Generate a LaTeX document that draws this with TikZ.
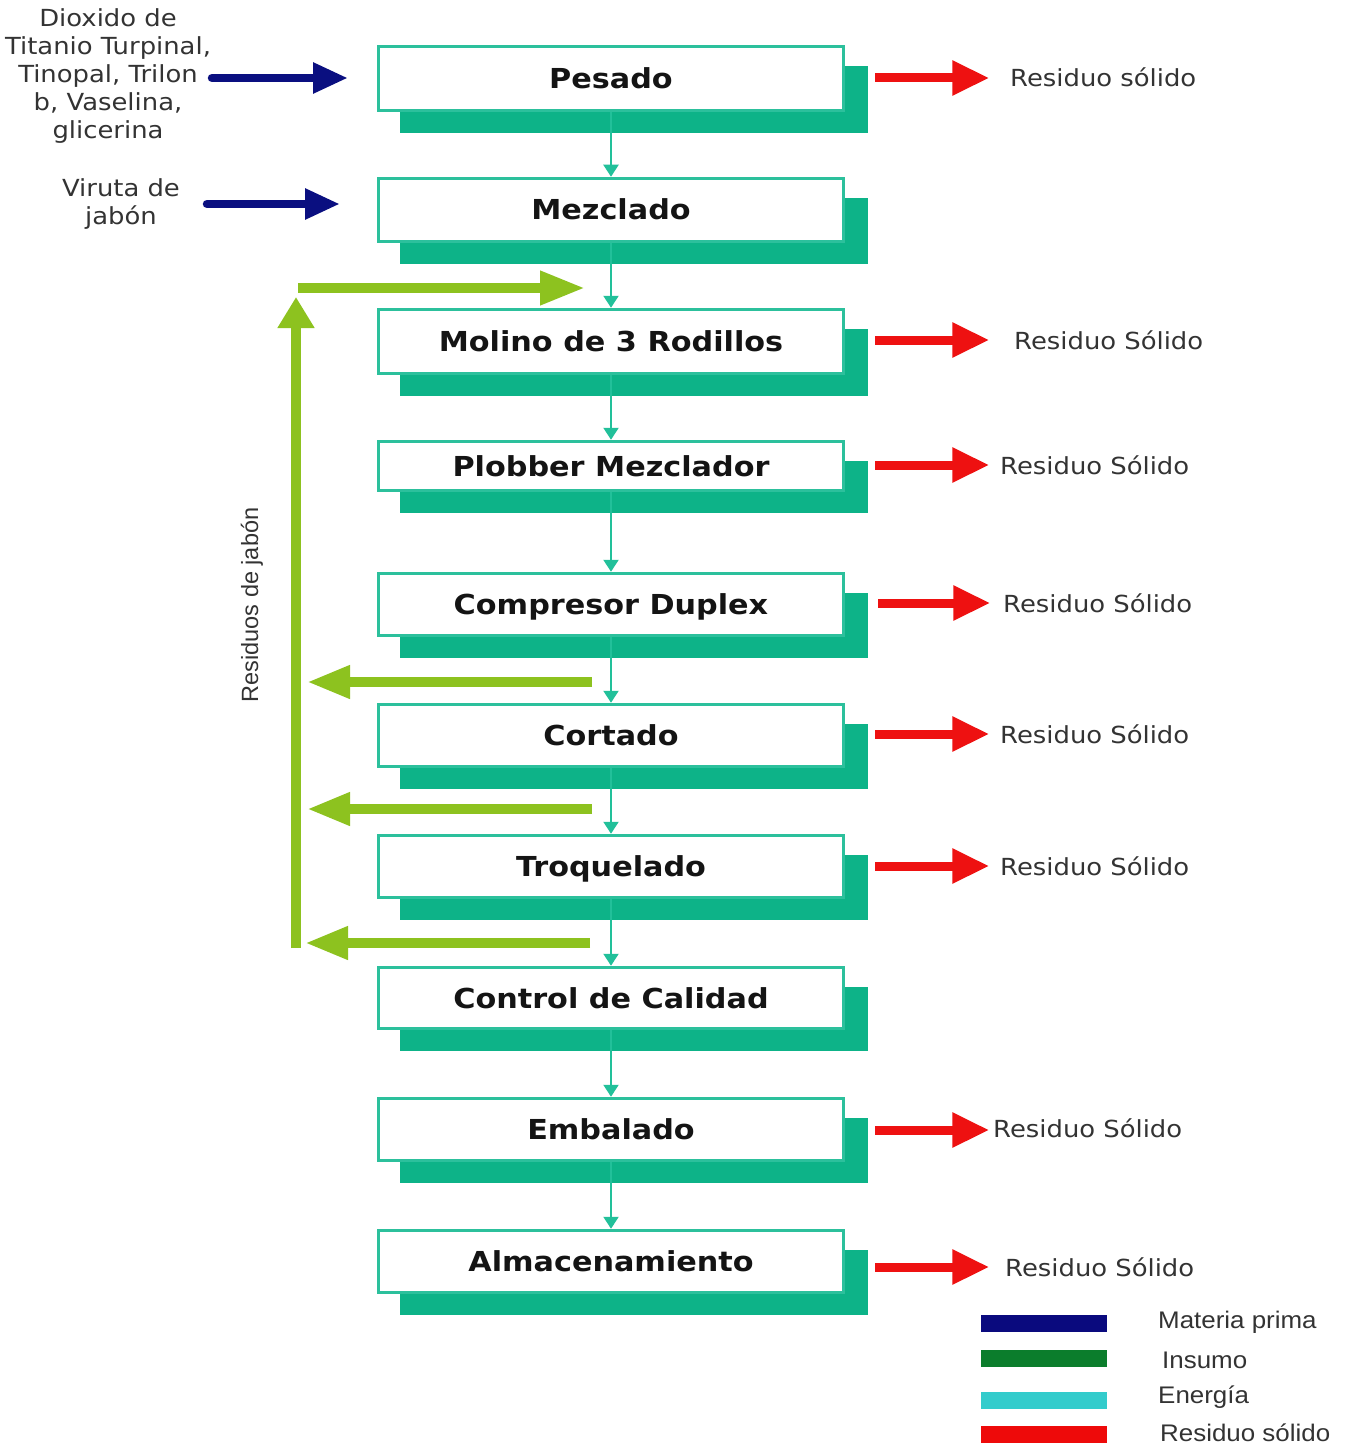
\documentclass[tikz,border=0pt]{standalone}
\usepackage{fontspec}
\usepackage{graphicx}
\setmainfont{DejaVu Sans}
\newfontfamily\arialfont{Liberation Sans}
\usetikzlibrary{arrows.meta,shadows,calc}

\definecolor{boxline}{HTML}{2CC09C}
\definecolor{boxshade}{HTML}{0DB388}
\definecolor{flowteal}{HTML}{22C09A}
\definecolor{wastered}{HTML}{EE1111}
\definecolor{rawblue}{HTML}{0A0F80}
\definecolor{recyclegreen}{HTML}{8DC21F}
\definecolor{legnavy}{HTML}{0A0A7E}
\definecolor{leggreen}{HTML}{0B7D2C}
\definecolor{legcyan}{HTML}{33CCCC}
\definecolor{legred}{HTML}{EE0A0A}
\definecolor{labelgray}{HTML}{333333}

% horizontally widened text
\newcommand{\hstretch}[2][1.1]{\scalebox{#1}[1]{#2}}

\tikzset{
  x=1pt, y=1pt,
  procbox/.style={draw=boxline, line width=3.5pt, fill=white,
    minimum width=465pt, inner sep=0pt,
    text height=20pt, text depth=0pt,
    font=\fontsize{27.5}{30}\selectfont\bfseries, text=black!92,
    drop shadow={shadow xshift=23pt, shadow yshift=-21pt,
      fill=boxshade, draw=boxshade, line width=3pt, opacity=1}},
  flow/.style={draw=flowteal, line width=2.2pt,
    -{Triangle[length=12pt,width=15pt]}},
  waste/.style={draw=wastered, line width=9pt,
    -{Triangle[length=37pt,width=33pt]}},
  rawflow/.style={draw=rawblue, line width=8.5pt, line cap=round,
    -{Triangle[length=35pt,width=29pt]}},
  recycle/.style={draw=recyclegreen, line width=10pt},
  wastelabel/.style={anchor=west, inner sep=0pt, text=labelgray,
    font=\fontsize{23.5}{28}\selectfont},
  sidelabel/.style={inner sep=0pt, text=labelgray,
    font=\fontsize{23.5}{28}\selectfont},
  legbar/.style={minimum width=126pt, minimum height=17pt, inner sep=0pt},
  legtext/.style={anchor=west, inner sep=0pt, text=labelgray,
    font=\arialfont\fontsize{24}{28}\selectfont},
}

\begin{document}
\begin{tikzpicture}
\useasboundingbox (0,0) rectangle (1352,-1447);
\fill[white] (0,0) rectangle (1352,-1447);

% process steps
\node[procbox, minimum height=64pt] (pesado)    at (611,-78.5)  {\hstretch{Pesado}};
\node[procbox, minimum height=63pt] (mezclado)  at (611,-210)   {\hstretch{Mezclado}};
\node[procbox, minimum height=64pt] (molino)    at (611,-341.5) {\hstretch{Molino de 3 Rodillos}};
\node[procbox, minimum height=49pt] (plobber)   at (611,-466)   {\hstretch{Plobber Mezclador}};
\node[procbox, minimum height=62pt] (compresor) at (611,-604.5) {\hstretch{Compresor Duplex}};
\node[procbox, minimum height=62pt] (cortado)   at (611,-735.5) {\hstretch{Cortado}};
\node[procbox, minimum height=62pt] (troquel)   at (611,-866.5) {\hstretch{Troquelado}};
\node[procbox, minimum height=61pt] (control)   at (611,-998)   {\hstretch{Control de Calidad}};
\node[procbox, minimum height=62pt] (embalado)  at (611,-1129.5){\hstretch{Embalado}};
\node[procbox, minimum height=62pt] (almacen)   at (611,-1261.5){\hstretch{Almacenamiento}};

% main flow
\draw[flow] (pesado.south)    -- (mezclado.north);
\draw[flow] (mezclado.south)  -- (molino.north);
\draw[flow] (molino.south)    -- (plobber.north);
\draw[flow] (plobber.south)   -- (compresor.north);
\draw[flow] (compresor.south) -- (cortado.north);
\draw[flow] (cortado.south)   -- (troquel.north);
\draw[flow] (troquel.south)   -- (control.north);
\draw[flow] (control.south)   -- (embalado.north);
\draw[flow] (embalado.south)  -- (almacen.north);

% raw material inputs
\node[sidelabel] (insumos) at (108,-77)
  {\hstretch{\begin{tabular}{@{}c@{}}Dioxido de\\Titanio Turpinal,\\Tinopal, Trilon\\b, Vaselina,\\glicerina\end{tabular}}};
\node[sidelabel] (viruta) at (121,-205)
  {\hstretch{\begin{tabular}{@{}c@{}}Viruta de\\jab\'on\end{tabular}}};
\coordinate (in1a) at (212,-78);  \coordinate (in1b) at (348,-78);
\coordinate (in2a) at (207,-204); \coordinate (in2b) at (340,-204);
\draw[rawflow] (in1a) -- (in1b);
\draw[rawflow] (in2a) -- (in2b);

% solid waste outputs
\node[wastelabel] (r1) at (1010,-77)   {\hstretch{Residuo s\'olido}};
\node[wastelabel] (r2) at (1014,-340)  {\hstretch{Residuo S\'olido}};
\node[wastelabel] (r3) at (1000,-465)  {\hstretch{Residuo S\'olido}};
\node[wastelabel] (r4) at (1003,-603)  {\hstretch{Residuo S\'olido}};
\node[wastelabel] (r5) at (1000,-734)  {\hstretch{Residuo S\'olido}};
\node[wastelabel] (r6) at (1000,-866)  {\hstretch{Residuo S\'olido}};
\node[wastelabel] (r7) at (993,-1128)  {\hstretch{Residuo S\'olido}};
\node[wastelabel] (r8) at (1005,-1267) {\hstretch{Residuo S\'olido}};
\draw[waste] ([xshift=30pt,yshift=0.5pt]pesado.east)    -- ++(114,0);
\draw[waste] ([xshift=30pt,yshift=1.5pt]molino.east)    -- ++(114,0);
\draw[waste] ([xshift=30pt,yshift=1pt]plobber.east)     -- ++(114,0);
\draw[waste] ([xshift=33pt,yshift=1.5pt]compresor.east) -- ++(112,0);
\draw[waste] ([xshift=30pt,yshift=1.5pt]cortado.east)   -- ++(114,0);
\draw[waste] ([xshift=30pt,yshift=0.5pt]troquel.east)   -- ++(114,0);
\draw[waste] ([xshift=30pt,yshift=-0.5pt]embalado.east) -- ++(114,0);
\draw[waste] ([xshift=30pt,yshift=-5.5pt]almacen.east)  -- ++(114,0);

% recycled soap scrap loop
\coordinate (gtopa) at (298,-288);  \coordinate (gtopb) at (585,-288);
\coordinate (gbot)  at (296,-948);  \coordinate (gup)   at (296,-297);
\coordinate (g1a) at (592,-682);    \coordinate (g1b) at (307,-682);
\coordinate (g2a) at (592,-809);    \coordinate (g2b) at (307,-809);
\coordinate (g3a) at (590,-943);    \coordinate (g3b) at (305,-943);
\draw[recycle, -{Triangle[length=45pt,width=32pt]}] (gtopa) -- (gtopb);
\draw[recycle, -{Triangle[length=31pt,width=35pt]}] (gbot) -- (gup);
\draw[recycle, -{Triangle[length=43pt,width=31pt]}] (g1a) -- (g1b);
\draw[recycle, -{Triangle[length=43pt,width=31pt]}] (g2a) -- (g2b);
\draw[recycle, -{Triangle[length=43pt,width=31pt]}] (g3a) -- (g3b);
\node[rotate=90, inner sep=0pt, text=labelgray,
      font=\arialfont\fontsize{23.5}{26}\selectfont] (resjabon) at (252,-605)
  {Residuos de jab\'on};

% legend
\node[legbar, fill=legnavy]  (lg1) at (1044,-1323) {};
\node[legbar, fill=leggreen] (lg2) at (1044,-1358) {};
\node[legbar, fill=legcyan]  (lg3) at (1044,-1400) {};
\node[legbar, fill=legred]   (lg4) at (1044,-1434) {};
\node[legtext] (lt1) at (1158,-1322) {\hstretch[1.08]{Materia prima}};
\node[legtext] (lt2) at (1162,-1360) {\hstretch[1.08]{Insumo}};
\node[legtext] (lt3) at (1158,-1397) {\hstretch[1.08]{Energ\'ia}};
\node[legtext] (lt4) at (1160,-1433) {\hstretch[1.08]{Residuo s\'olido}};
\end{tikzpicture}
\end{document}
